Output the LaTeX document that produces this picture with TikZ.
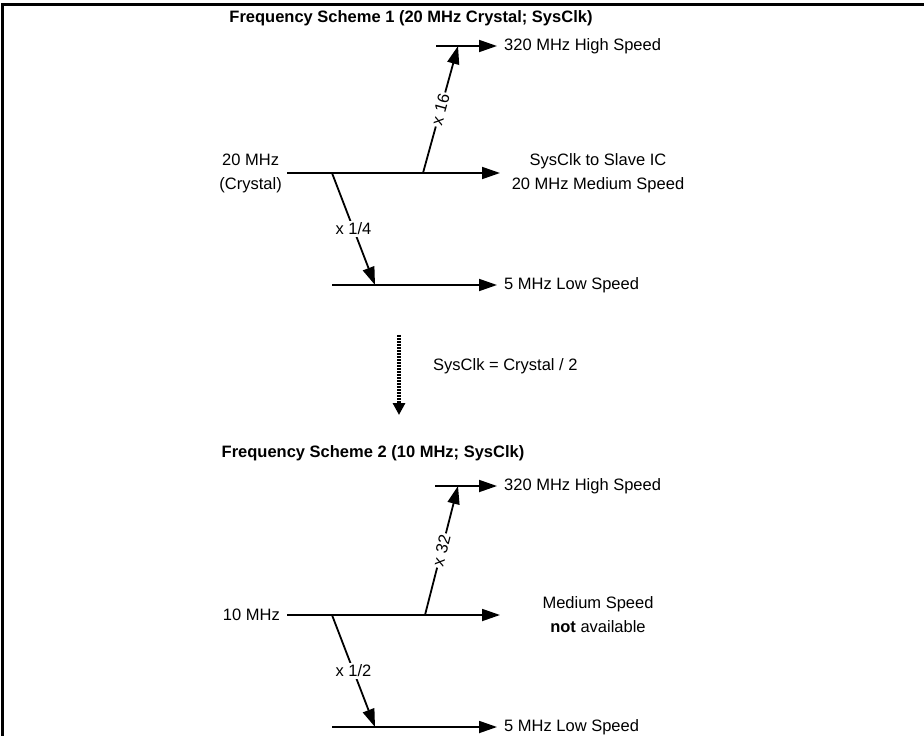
\documentclass[tikz,border=0pt]{standalone}
\usepackage{fontspec}
\setmainfont{Liberation Sans}
\usetikzlibrary{arrows.meta,positioning}

\begin{document}
\begin{tikzpicture}[x=1pt, y=-1pt,
    every node/.style={font=\fontsize{16.5}{24}\selectfont, inner sep=0pt},
    title/.style={font=\fontsize{16.5}{24}\selectfont\bfseries},
    feed/.style={line width=1.8pt, -{Triangle[length=18pt,width=12pt]}},
    mult/.style={line width=1.8pt, -{Triangle[length=18pt,width=12pt]}},
    multlabel/.style={fill=white, inner sep=2pt},
    convert/.style={line width=3.5pt, dash pattern=on 2pt off 1pt,
        -{Triangle[length=12pt,width=12pt]}},
]
\useasboundingbox (0,0) rectangle (924,736);

% ===== Frame =====
\coordinate (fbl) at (2.5,736);
\coordinate (ftl) at (2.5,4);
\coordinate (ftr) at (924,4);
\draw[line width=3pt] (fbl) -- (ftl) -- (ftr);

% ===== TOP: Scheme 1 =====
\node[title] (title1) at (411,18) {Frequency Scheme 1 (20 MHz Crystal; SysClk)};

% Branch points
\coordinate (in1) at (287,173);
\coordinate (mid1) at (500,173);
\coordinate (up1) at (423,173);
\coordinate (dn1) at (332,173);
\coordinate (hiA1) at (436,46);
\coordinate (hi1) at (497,46);
\coordinate (hiT1) at (458,46);
\coordinate (loA1) at (332,285);
\coordinate (lo1) at (497,285);
\coordinate (loT1) at (375,285);

% Lines
\draw[feed] (in1) -- (mid1);
\draw[feed] (hiA1) -- (hi1);
\draw[feed] (loA1) -- (lo1);
\draw[mult] (up1) -- node[multlabel, sloped] (mul16) {x 16} (hiT1);
\draw[mult] (dn1) -- node[multlabel] (div4) {x 1/4} (loT1);

% Labels
\node[anchor=east, align=center] (src1) at (282,173) {20 MHz\\(Crystal)};
\node[right=7pt of hi1] (high1) {320 MHz High Speed};
\node[align=center] (medium1) at (598,173) {SysClk to Slave IC\\20 MHz Medium Speed};
\node[right=7pt of lo1] (low1) {5 MHz Low Speed};

% ===== Transition =====
\coordinate (convA) at (399,335);
\coordinate (convB) at (399,415);
\draw[convert] (convA) -- (convB);
\node[anchor=west] (rule) at (433,366) {SysClk = Crystal / 2};

% ===== BOTTOM: Scheme 2 =====
\node[title] (title2) at (373,453) {Frequency Scheme 2 (10 MHz; SysClk)};

% Branch points
\coordinate (in2) at (287,615);
\coordinate (mid2) at (500,615);
\coordinate (up2) at (425,615);
\coordinate (dn2) at (332,615);
\coordinate (hiA2) at (435,486);
\coordinate (hi2) at (497,486);
\coordinate (hiT2) at (458,486);
\coordinate (loA2) at (332,727);
\coordinate (lo2) at (497,727);
\coordinate (loT2) at (375,727);

% Lines
\draw[feed] (in2) -- (mid2);
\draw[feed] (hiA2) -- (hi2);
\draw[feed] (loA2) -- (lo2);
\draw[mult] (up2) -- node[multlabel, sloped] (mul32) {x 32} (hiT2);
\draw[mult] (dn2) -- node[multlabel] (div2) {x 1/2} (loT2);

% Labels
\node[anchor=east] (src2) at (280,615) {10 MHz};
\node[right=7pt of hi2] (high2) {320 MHz High Speed};
\node[align=center] (medium2) at (598,615) {Medium Speed\\\textbf{not} available};
\node[right=7pt of lo2] (low2) {5 MHz Low Speed};

\end{tikzpicture}
\end{document}
